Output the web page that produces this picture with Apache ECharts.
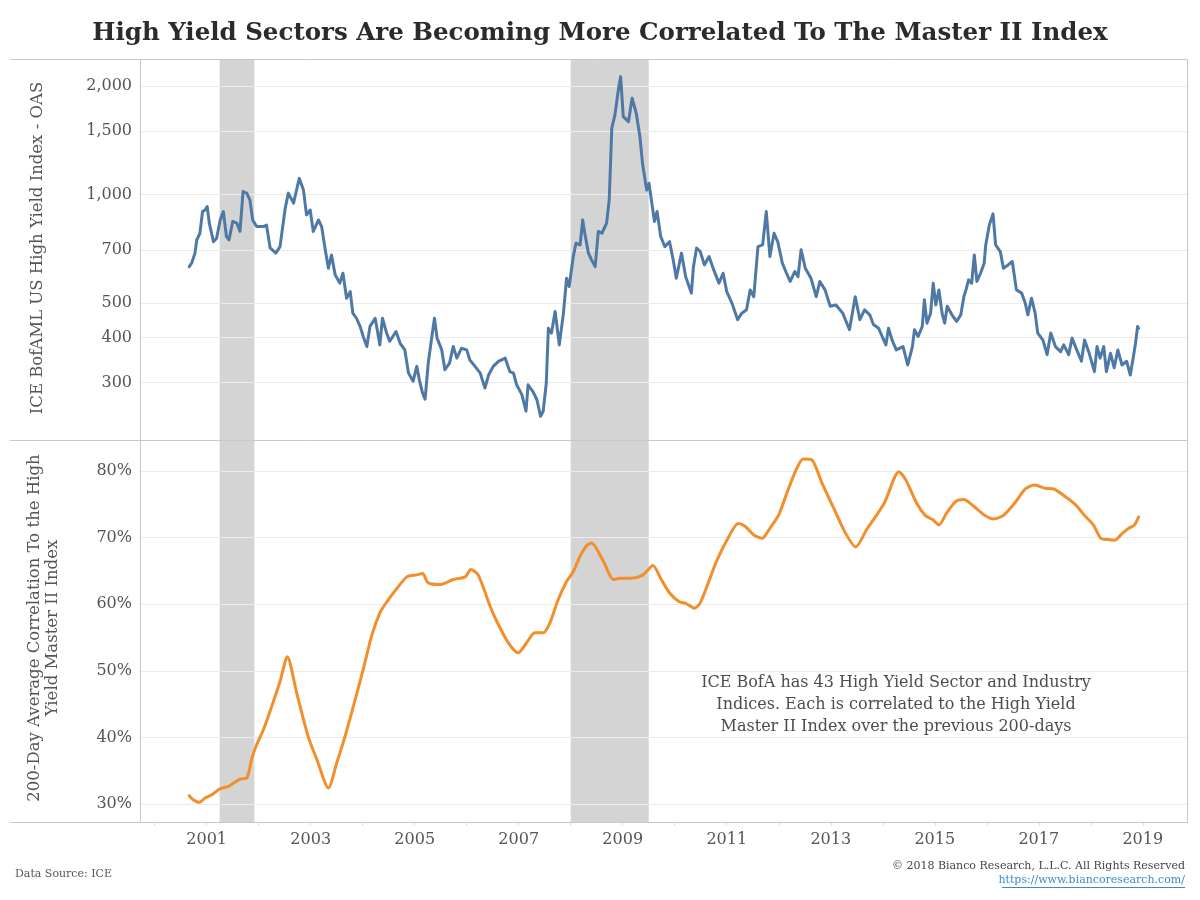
<!DOCTYPE html>
<html>
<head>
<meta charset="utf-8">
<script src="https://cdn.jsdelivr.net/npm/echarts@6/dist/echarts.min.js"></script>
<style>
html,body{margin:0;padding:0;background:#fff;}
#chart{width:1200px;height:900px;}
</style>
</head>
<body>
<div id="chart"></div>
<script>
// ---- Data (decimal years) ----
const oasDates = [
  2000.665, 2000.71, 2000.775, 2000.81, 2000.87, 2000.92, 2000.97, 2001.01, 2001.05, 2001.13,
  2001.19, 2001.26, 2001.32, 2001.38, 2001.43, 2001.50, 2001.58, 2001.64, 2001.70, 2001.77,
  2001.83, 2001.885, 2001.96, 2002.09, 2002.15, 2002.22, 2002.33, 2002.41, 2002.51, 2002.57,
  2002.67, 2002.78, 2002.86, 2002.92, 2002.99, 2003.05, 2003.15, 2003.21, 2003.28, 2003.34,
  2003.40, 2003.47, 2003.56, 2003.62, 2003.69, 2003.76, 2003.81, 2003.88, 2003.95, 2004.01,
  2004.08, 2004.14, 2004.24, 2004.33, 2004.38, 2004.46, 2004.52, 2004.64, 2004.72, 2004.81,
  2004.88, 2004.97, 2005.04, 2005.09, 2005.15, 2005.20, 2005.26, 2005.33, 2005.38, 2005.43,
  2005.52, 2005.58, 2005.67, 2005.74, 2005.81, 2005.90, 2006.00, 2006.06, 2006.16, 2006.26,
  2006.35, 2006.42, 2006.51, 2006.61, 2006.74, 2006.83, 2006.90, 2006.96, 2007.06, 2007.14,
  2007.18, 2007.27, 2007.35, 2007.42, 2007.47, 2007.53, 2007.57, 2007.63, 2007.70, 2007.78,
  2007.86, 2007.92, 2007.97, 2008.05, 2008.10, 2008.18, 2008.23, 2008.27, 2008.34, 2008.40,
  2008.47, 2008.53, 2008.60, 2008.69, 2008.74, 2008.79, 2008.85, 2008.92, 2008.96, 2009.01,
  2009.11, 2009.18, 2009.26, 2009.33, 2009.38, 2009.46, 2009.505, 2009.61, 2009.66, 2009.73,
  2009.81, 2009.90, 2009.97, 2010.03, 2010.13, 2010.21, 2010.32, 2010.36, 2010.42, 2010.49,
  2010.57, 2010.66, 2010.75, 2010.85, 2010.93, 2011.00, 2011.10, 2011.21, 2011.29, 2011.38,
  2011.45, 2011.52, 2011.60, 2011.69, 2011.76, 2011.83, 2011.91, 2011.98, 2012.07, 2012.15,
  2012.22, 2012.31, 2012.37, 2012.43, 2012.51, 2012.62, 2012.72, 2012.79, 2012.89, 2012.99,
  2013.10, 2013.23, 2013.36, 2013.47, 2013.56, 2013.65, 2013.75, 2013.82, 2013.92, 2013.99,
  2014.06, 2014.11, 2014.18, 2014.26, 2014.39, 2014.48, 2014.57, 2014.61, 2014.68, 2014.76,
  2014.80, 2014.85, 2014.92, 2014.97, 2015.02, 2015.08, 2015.14, 2015.19, 2015.24, 2015.33,
  2015.42, 2015.50, 2015.56, 2015.60, 2015.65, 2015.71, 2015.76, 2015.81, 2015.88, 2015.95,
  2015.98, 2016.05, 2016.12, 2016.17, 2016.26, 2016.32, 2016.41, 2016.49, 2016.57, 2016.67,
  2016.74, 2016.79, 2016.86, 2016.93, 2016.98, 2017.08, 2017.16, 2017.23, 2017.32, 2017.42,
  2017.48, 2017.575, 2017.64, 2017.73, 2017.82, 2017.88, 2017.97, 2018.07, 2018.12, 2018.18,
  2018.25, 2018.30, 2018.38, 2018.45, 2018.52, 2018.60, 2018.69, 2018.76, 2018.83, 2018.86,
  2018.90, 2018.92
];
const oasValues = [
  630, 644, 687, 748, 780, 896, 905, 925, 832, 739,
  755, 849, 896, 764, 748, 841, 832, 789, 1018, 1008,
  966, 849, 814, 814, 822, 710, 687, 716, 915, 1008,
  946, 1108, 1029, 877, 905, 789, 849, 814, 702, 624,
  679, 598, 567, 604, 515, 537, 468, 453, 430, 403,
  378, 430, 453, 382, 453, 412, 391, 416, 386, 370,
  319, 303, 333, 305, 281, 270, 340, 403, 453, 399,
  370, 326, 340, 378, 351, 374, 370, 347, 333, 319,
  290, 315, 333, 344, 351, 322, 319, 296, 278, 250,
  296, 284, 269, 242, 250, 299, 425, 412, 473, 382,
  468, 585, 555, 672, 732, 724, 849, 780, 687, 658,
  630, 789, 780, 832, 966, 1527, 1662, 1971, 2123, 1643,
  1592, 1849, 1680, 1447, 1220, 1029, 1074, 841, 896, 764,
  716, 739, 658, 585, 687, 591, 532, 630, 710, 694,
  637, 672, 617, 567, 604, 537, 499, 449, 468, 478,
  543, 520, 716, 724, 896, 672, 780, 739, 644, 604,
  573, 611, 591, 702, 624, 585, 520, 573, 543, 489,
  493, 468, 421, 520, 449, 478, 463, 435, 425, 403,
  382, 425, 394, 370, 378, 336, 378, 421, 403, 430,
  510, 439, 468, 567, 493, 543, 468, 439, 489, 463,
  444, 463, 520, 543, 579, 567, 679, 573, 604, 644,
  724, 823, 883, 724, 694, 624, 637, 651, 543, 532,
  499, 463, 515, 468, 412, 394, 359, 412, 378, 366,
  382, 359, 399, 370, 344, 394, 362, 322, 378, 351,
  378, 322, 362, 330, 370, 336, 344, 315, 362, 386,
  430, 425
];

const corrDates = [
  2000.665, 2000.74, 2000.86, 2000.97, 2001.10, 2001.26, 2001.42, 2001.64, 2001.77, 2001.87,
  2001.96, 2002.09, 2002.25, 2002.41, 2002.55, 2002.73, 2002.95, 2003.12, 2003.34, 2003.50,
  2003.66, 2003.82, 2004.01, 2004.17, 2004.33, 2004.45, 2004.64, 2004.85, 2005.04, 2005.15,
  2005.26, 2005.49, 2005.74, 2005.97, 2006.08, 2006.22, 2006.45, 2006.58, 2006.80, 2006.99,
  2007.15, 2007.31, 2007.47, 2007.60, 2007.76, 2007.92, 2008.05, 2008.18, 2008.31, 2008.40,
  2008.63, 2008.82, 2008.95, 2009.17, 2009.39, 2009.58, 2009.74, 2009.91, 2010.08, 2010.22,
  2010.38, 2010.49, 2010.63, 2010.80, 2011.01, 2011.22, 2011.35, 2011.52, 2011.68, 2011.83,
  2012.00, 2012.18, 2012.35, 2012.47, 2012.63, 2012.83, 2013.07, 2013.28, 2013.48, 2013.69,
  2014.03, 2014.31, 2014.44, 2014.65, 2014.82, 2014.96, 2015.08, 2015.23, 2015.40, 2015.56,
  2015.75, 2015.95, 2016.13, 2016.33, 2016.54, 2016.74, 2016.92, 2017.12, 2017.29, 2017.50,
  2017.71, 2017.88, 2018.05, 2018.19, 2018.33, 2018.46, 2018.60, 2018.73, 2018.84, 2018.92
];
const corrValues = [
  31.25, 30.65, 30.25, 30.9, 31.4, 32.3, 32.65, 33.75, 33.9, 36.9,
  38.9, 41.15, 44.65, 48.4, 52.1, 46.7, 40.15, 36.65, 32.4, 36.15,
  40.15, 44.65, 50.2, 55.2, 58.7, 60.2, 62.2, 64.1, 64.4, 64.6,
  63.2, 62.95, 63.7, 64.1, 65.2, 64.4, 59.7, 57.4, 54.2, 52.7,
  54.2, 55.7, 55.7, 57.2, 60.7, 63.4, 64.9, 67.2, 68.8, 69.2,
  66.4, 63.7, 63.9, 63.9, 64.4, 65.8, 63.7, 61.6, 60.4, 60.1,
  59.4, 60.2, 62.9, 66.4, 69.7, 72.1, 71.7, 70.4, 69.9, 71.4,
  73.4, 77.2, 80.45, 81.8, 81.7, 78.2, 74.2, 70.7, 68.6, 71.2,
  75.2, 79.9, 78.7, 75.2, 73.3, 72.7, 71.9, 73.7, 75.4, 75.7,
  74.7, 73.4, 72.8, 73.4, 75.2, 77.3, 77.9, 77.4, 77.3, 76.2,
  74.9, 73.3, 71.9, 69.9, 69.7, 69.6, 70.6, 71.4, 71.9, 73.1
];

const yearTicks = [2000, 2001, 2002, 2003, 2004, 2005, 2006, 2007, 2008, 2009, 2010,
                   2011, 2012, 2013, 2014, 2015, 2016, 2017, 2018, 2019];
const yearLabels = [2001, 2003, 2005, 2007, 2009, 2011, 2013, 2015, 2017, 2019];
const oasTicks = [300, 400, 500, 700, 1000, 1500, 2000];
const corrTicks = [30, 40, 50, 60, 70, 80];
const recessionStarts = [2001.25, 2008.0];
const recessionEnds = [2001.917, 2009.5];

// ---- Build ----
const FONT = '"DejaVu Serif", Georgia, serif';
const TXT = '#555555';
const FRAME = '#c8c8c8';
const GRIDC = '#ebebeb';

const oasData = oasDates.map((d, i) => [d, Math.log10(oasValues[i])]);
const corrData = corrDates.map((d, i) => [d, corrValues[i]]);
const recessionAreas = recessionStarts.map((s, i) => [{ xAxis: s }, { xAxis: recessionEnds[i] }]);

const X_MIN = 1999.737, X_MAX = 2019.85;

const chart = echarts.init(document.getElementById('chart'), null, { renderer: 'canvas' });

function hline(y, x1, x2) {
  return { type: 'line', silent: true, z: 50,
    shape: { x1: x1, y1: y, x2: x2, y2: y },
    style: { stroke: FRAME, lineWidth: 1 } };
}
function vline(x, y1, y2) {
  return { type: 'line', silent: true, z: 50,
    shape: { x1: x, y1: y1, x2: x, y2: y2 },
    style: { stroke: FRAME, lineWidth: 1 } };
}

const option = {
  backgroundColor: '#ffffff',
  animation: false,
  grid: [
    { left: 141, right: 13, top: 60, height: 380 },
    { left: 141, right: 13, top: 440, height: 382 }
  ],
  xAxis: [
    { type: 'value', gridIndex: 0, min: X_MIN, max: X_MAX, show: false },
    { type: 'value', gridIndex: 1, min: X_MIN, max: X_MAX,
      axisLine: { show: false },
      splitLine: { show: false },
      axisTick: { show: true, customValues: yearTicks, length: 4, lineStyle: { color: '#dedede' } },
      axisLabel: { customValues: yearLabels, margin: 10, color: TXT, fontFamily: FONT, fontSize: 16,
        formatter: v => String(Math.round(v)) }
    }
  ],
  yAxis: [
    { type: 'value', gridIndex: 0, min: Math.log10(208), max: Math.log10(2361), z: 1.5,
      axisLine: { show: false },
      axisTick: { show: false, customValues: oasTicks.map(v => Math.log10(v)) },
      splitLine: { show: true, lineStyle: { color: GRIDC, width: 1 } },
      axisLabel: { customValues: oasTicks.map(v => Math.log10(v)), margin: 9, color: TXT,
        fontFamily: FONT, fontSize: 16,
        formatter: v => Math.round(Math.pow(10, v)).toLocaleString('en-US') }
    },
    { type: 'value', gridIndex: 1, min: 27.3, max: 84.65, z: 1.5,
      axisLine: { show: false },
      axisTick: { show: false, customValues: corrTicks },
      splitLine: { show: true, lineStyle: { color: GRIDC, width: 1 } },
      axisLabel: { customValues: corrTicks, margin: 9, color: TXT, fontFamily: FONT, fontSize: 16,
        formatter: v => Math.round(v) + '%' }
    }
  ],
  series: [
    { type: 'line', xAxisIndex: 0, yAxisIndex: 0, data: oasData, showSymbol: false, z: 3,
      lineStyle: { color: '#4e79a7', width: 3, cap: 'round', join: 'round' },
      itemStyle: { color: '#4e79a7' },
      markArea: { silent: true, z: 1, itemStyle: { color: '#d4d4d4' }, data: recessionAreas }
    },
    { type: 'line', xAxisIndex: 1, yAxisIndex: 1, data: corrData, showSymbol: false, z: 3,
      smooth: 0.25,
      lineStyle: { color: '#f28e2b', width: 3, cap: 'round', join: 'round' },
      itemStyle: { color: '#f28e2b' },
      markArea: { silent: true, z: 1, itemStyle: { color: '#d4d4d4' }, data: recessionAreas }
    }
  ],
  graphic: [
    { type: 'text', x: 600, y: 34, silent: true,
      style: { text: 'High Yield Sectors Are Becoming More Correlated To The Master II Index',
        font: 'bold 24.5px ' + FONT, fill: '#2b2b2b', align: 'center', verticalAlign: 'middle' } },
    hline(59.5, 10, 1187.5),
    hline(440.5, 10, 1187.5),
    hline(822.5, 10, 1187.5),
    vline(140.5, 59.5, 822.5),
    vline(1187.5, 59.5, 822.5),
    { type: 'text', x: 38, y: 248, rotation: Math.PI / 2, silent: true,
      style: { text: 'ICE BofAML US High Yield Index - OAS', font: '16.5px ' + FONT,
        fill: TXT, align: 'center', verticalAlign: 'middle' } },
    { type: 'text', x: 43.5, y: 628, rotation: Math.PI / 2, silent: true,
      style: { text: '200-Day Average Correlation To the High\nYield Master II Index', font: '16.5px ' + FONT,
        lineHeight: 18, fill: TXT, align: 'center', verticalAlign: 'middle' } },
    { type: 'text', x: 896, y: 705, silent: true,
      style: { text: 'ICE BofA has 43 High Yield Sector and Industry\nIndices. Each is correlated to the High Yield\nMaster II Index over the previous 200-days',
        font: '16px ' + FONT, lineHeight: 22, fill: '#4d4d4d', align: 'center', verticalAlign: 'middle' } },
    { type: 'text', x: 15, y: 874, silent: true,
      style: { text: 'Data Source: ICE', font: '11px ' + FONT, fill: '#555555', align: 'left', verticalAlign: 'middle' } },
    { type: 'text', x: 1185, y: 866, silent: true,
      style: { text: '\u00A9 2018 Bianco Research, L.L.C. All Rights Reserved', font: '11px ' + FONT,
        fill: '#444444', align: 'right', verticalAlign: 'middle' } },
    { type: 'text', x: 1185, y: 880, silent: true,
      style: { text: 'https://www.biancoresearch.com/', font: '11px ' + FONT,
        fill: '#3a8cc9', align: 'right', verticalAlign: 'middle' } },
    { type: 'line', silent: true,
      shape: { x1: 1002, y1: 887.5, x2: 1185, y2: 887.5 },
      style: { stroke: '#3a8cc9', lineWidth: 1 } }
  ]
};

chart.setOption(option);
</script>
</body>
</html>
